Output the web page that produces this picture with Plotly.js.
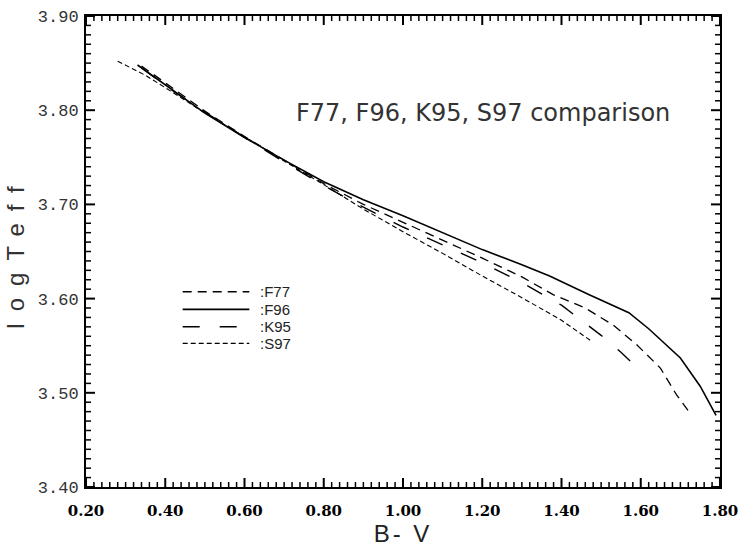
<!DOCTYPE html>
<html>
<head>
<meta charset="utf-8">
<script src="https://cdn.plot.ly/plotly-3.0.1.min.js"></script>
<style>
  html, body { margin: 0; padding: 0; background: #fff; }
  #chart { width: 738px; height: 551px; }
  .ytitle { letter-spacing: 12px; }
  .xtitle { letter-spacing: 3px; }
</style>
</head>
<body>
<div id="chart"></div>
<script>
// ---- Data ----
const bvF77 = [0.34, 0.40, 0.50, 0.60, 0.70, 0.80, 0.90, 1.00, 1.10, 1.20, 1.30, 1.38, 1.46, 1.53, 1.59, 1.65, 1.69, 1.72];
const logTeffF77 = [3.847, 3.829, 3.799, 3.772, 3.747, 3.722, 3.700, 3.681, 3.662, 3.643, 3.623, 3.604, 3.590, 3.572, 3.551, 3.526, 3.498, 3.481];

const bvF96 = [0.33, 0.40, 0.50, 0.60, 0.70, 0.80, 0.90, 1.00, 1.10, 1.20, 1.30, 1.37, 1.47, 1.57, 1.62, 1.70, 1.75, 1.79];
const logTeffF96 = [3.848, 3.827, 3.797, 3.771, 3.747, 3.724, 3.705, 3.688, 3.670, 3.652, 3.636, 3.624, 3.604, 3.585, 3.568, 3.537, 3.507, 3.476];

const bvK95 = [0.34, 0.40, 0.50, 0.60, 0.70, 0.80, 0.90, 1.00, 1.10, 1.20, 1.30, 1.40, 1.45, 1.50, 1.55, 1.60];
const logTeffK95 = [3.845, 3.826, 3.798, 3.771, 3.745, 3.720, 3.697, 3.676, 3.657, 3.638, 3.617, 3.593, 3.577, 3.561, 3.543, 3.523];

const bvS97 = [0.28, 0.35, 0.40, 0.50, 0.60, 0.70, 0.80, 0.90, 1.00, 1.10, 1.20, 1.30, 1.40, 1.475];
const logTeffS97 = [3.852, 3.837, 3.824, 3.797, 3.772, 3.746, 3.721, 3.695, 3.671, 3.648, 3.624, 3.601, 3.577, 3.555];

const seriesNames = [':F77', ':F96', ':K95', ':S97'];
const chartNote = 'F77, F96, K95, S97 comparison';
const xTitle = 'B- V';
const yTitle = 'logTeff';
const xTickVals = [0.2, 0.4, 0.6, 0.8, 1.0, 1.2, 1.4, 1.6, 1.8];
const xTickText = ['0.20', '0.40', '0.60', '0.80', '1.00', '1.20', '1.40', '1.60', '1.80'];
const yTickVals = [3.4, 3.5, 3.6, 3.7, 3.8, 3.9];
const yTickText = ['3.40', '3.50', '3.60', '3.70', '3.80', '3.90'];

// ---- Styles ----
const dashes = ['9px,6px', 'solid', '17px,20px', '5px,3px'];
const widths = [1.3, 1.6, 1.4, 1.1];
const xs = [bvF77, bvF96, bvK95, bvS97];
const ys = [logTeffF77, logTeffF96, logTeffK95, logTeffS97];

const xRange = [0.2, 1.8], yRange = [3.4, 3.9];
const plotW = 634, plotH = 471;

const traces = xs.map((x, i) => ({
  x: x, y: ys[i], type: 'scatter', mode: 'lines', name: seriesNames[i],
  line: { color: '#000', width: widths[i], dash: dashes[i] },
  showlegend: false, hoverinfo: 'skip'
}));

// ---- inward tick marks on all four sides (axis decoration built from the tick values) ----
function tickTrace(major, width) {
  const tx = [], ty = [];
  const xLen = (major ? 9 : 5) / plotH * (yRange[1] - yRange[0]);
  const yLen = (major ? 9 : 5) / plotW * (xRange[1] - xRange[0]);
  for (let k = 0; k <= 80; k++) {             // x: every 0.02, major every 0.2
    if ((k % 10 === 0) !== major) continue;
    const v = +(xRange[0] + k * 0.02).toFixed(4);
    tx.push(v, v, null, v, v, null);
    ty.push(yRange[0], yRange[0] + xLen, null, yRange[1], yRange[1] - xLen, null);
  }
  for (let k = 0; k <= 50; k++) {             // y: every 0.01, major every 0.1
    if ((k % 10 === 0) !== major) continue;
    const v = +(yRange[0] + k * 0.01).toFixed(4);
    tx.push(xRange[0], xRange[0] + yLen, null, xRange[1], xRange[1] - yLen, null);
    ty.push(v, v, null, v, v, null);
  }
  return { x: tx, y: ty, type: 'scatter', mode: 'lines', line: { color: '#000', width: width },
           showlegend: false, hoverinfo: 'skip', cliponaxis: false };
}
traces.push(tickTrace(false, 1.5));
traces.push(tickTrace(true, 2));

// custom legend (line samples + labels) in paper coordinates
const legX0 = 0.1525, legX1 = 0.2576, legTextX = 0.272;
const legY = [0.4147, 0.3773, 0.3403, 0.3051];
const shapes = legY.map((yy, i) => ({
  type: 'line', xref: 'paper', yref: 'paper', x0: legX0, x1: legX1, y0: yy, y1: yy,
  line: { color: '#000', width: widths[i] + 0.2, dash: dashes[i] }
}));
const annotations = legY.map((yy, i) => ({
  xref: 'paper', yref: 'paper', x: legTextX, y: yy, xanchor: 'left', yanchor: 'middle',
  text: seriesNames[i], showarrow: false,
  font: { family: 'Liberation Sans', size: 15, color: '#222' }
}));
annotations.push({
  xref: 'paper', yref: 'paper', x: 0.328, y: 0.794, xanchor: 'left', yanchor: 'middle',
  text: chartNote, showarrow: false,
  font: { family: 'DejaVu Sans', size: 24, color: '#333' }
});

const layout = {
  width: 738, height: 551,
  margin: { l: 86, r: 18, t: 16, b: 64 },
  paper_bgcolor: '#fff', plot_bgcolor: '#fff',
  showlegend: false,
  xaxis: {
    range: xRange, tickmode: 'array', tickvals: xTickVals, ticktext: xTickText,
    showline: true, linecolor: '#000', linewidth: 2, mirror: true,
    ticks: 'outside', ticklen: 9, tickcolor: 'rgba(0,0,0,0)',
    showgrid: false, zeroline: false, ticklabeloverflow: 'allow',
    tickfont: { family: 'DejaVu Serif', size: 15, color: '#000', weight: 'bold' },
    title: { text: xTitle, font: { family: 'Liberation Sans', size: 24, color: '#222' }, standoff: 4 }
  },
  yaxis: {
    range: yRange, tickmode: 'array', tickvals: yTickVals, ticktext: yTickText,
    showline: true, linecolor: '#000', linewidth: 2, mirror: true,
    ticks: 'outside', ticklen: 2, tickcolor: 'rgba(0,0,0,0)',
    showgrid: false, zeroline: false, ticklabeloverflow: 'allow',
    tickfont: { family: 'Liberation Mono', size: 17, color: '#333' },
    title: { text: yTitle, font: { family: 'Liberation Sans', size: 24, color: '#333' }, standoff: 6 }
  },
  shapes: shapes,
  annotations: annotations
};

Plotly.newPlot('chart', traces, layout, { staticPlot: true, displayModeBar: false });
</script>
</body>
</html>
